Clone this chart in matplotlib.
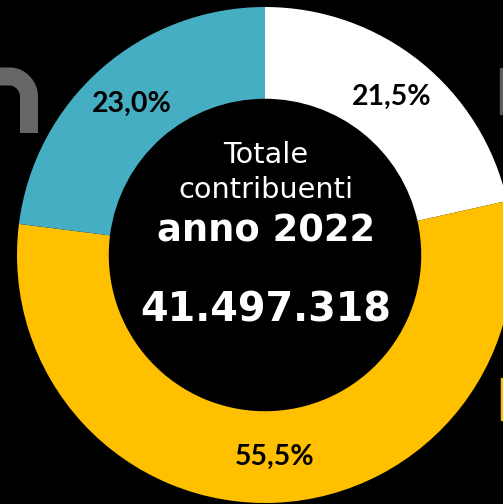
import matplotlib.pyplot as plt
from matplotlib.path import Path
import matplotlib.patches as mpatches

# data
shares = [21.5, 55.5, 23.0]
labels = ['21,5%', '55,5%', '23,0%']
colors = ['#FFFFFF', '#FFC000', '#46AEC2']
center_lines = ['Totale', 'contribuenti', 'anno 2022', '41.497.318']

W, H = 503, 504
fig = plt.figure(figsize=(W / 100, H / 100), dpi=100, facecolor='black')
ax = fig.add_axes([0, 0, 1, 1])
ax.set_facecolor('black')

cx, cy, r = 265, H - 255, 248
ring = 0.37

# background logo bits (cropped at the edges)
verts = [(-5, H - 76.5), (10, H - 76.5), (21, H - 76.5), (29, H - 87), (29, H - 96), (29, H - 133)]
codes = [Path.MOVETO, Path.LINETO, Path.CURVE4, Path.CURVE4, Path.CURVE4, Path.LINETO]
ax.add_patch(mpatches.PathPatch(Path(verts, codes), fill=False, edgecolor='#666666',
                                lw=18 * 0.72, capstyle='butt', joinstyle='round'))
ax.add_patch(mpatches.Rectangle((500, H - 114), 10, 46, color='#5a5a5a'))
ax.add_patch(mpatches.Rectangle((501, H - 420), 10, 42, color='#FFC000'))

wedges, texts = ax.pie(shares, colors=colors, startangle=90, counterclock=False,
                       radius=r, center=(cx, cy), frame=True,
                       labels=labels, labeldistance=1 - ring / 2,
                       wedgeprops=dict(width=r * ring, edgecolor='none'),
                       textprops=dict(family='Lato', fontweight='bold', fontsize=20.5,
                                      color='black', ha='center', va='center'))
ax.set_xlim(0, W)
ax.set_ylim(0, H)
ax.set_aspect('auto')
ax.axis('off')

tx = 266
ax.text(tx, H - 163, center_lines[0], color='white', fontsize=20.7, ha='center', va='baseline')
ax.text(tx, H - 198, center_lines[1], color='white', fontsize=20.7, ha='center', va='baseline')
ax.text(tx, H - 242, center_lines[2], color='white', fontsize=26.6, fontweight='bold',
        ha='center', va='baseline')
ax.text(tx, H - 322, center_lines[3], color='white', fontsize=28.6, fontweight='bold',
        ha='center', va='baseline')

plt.savefig('out.png', dpi=100, facecolor='black')
